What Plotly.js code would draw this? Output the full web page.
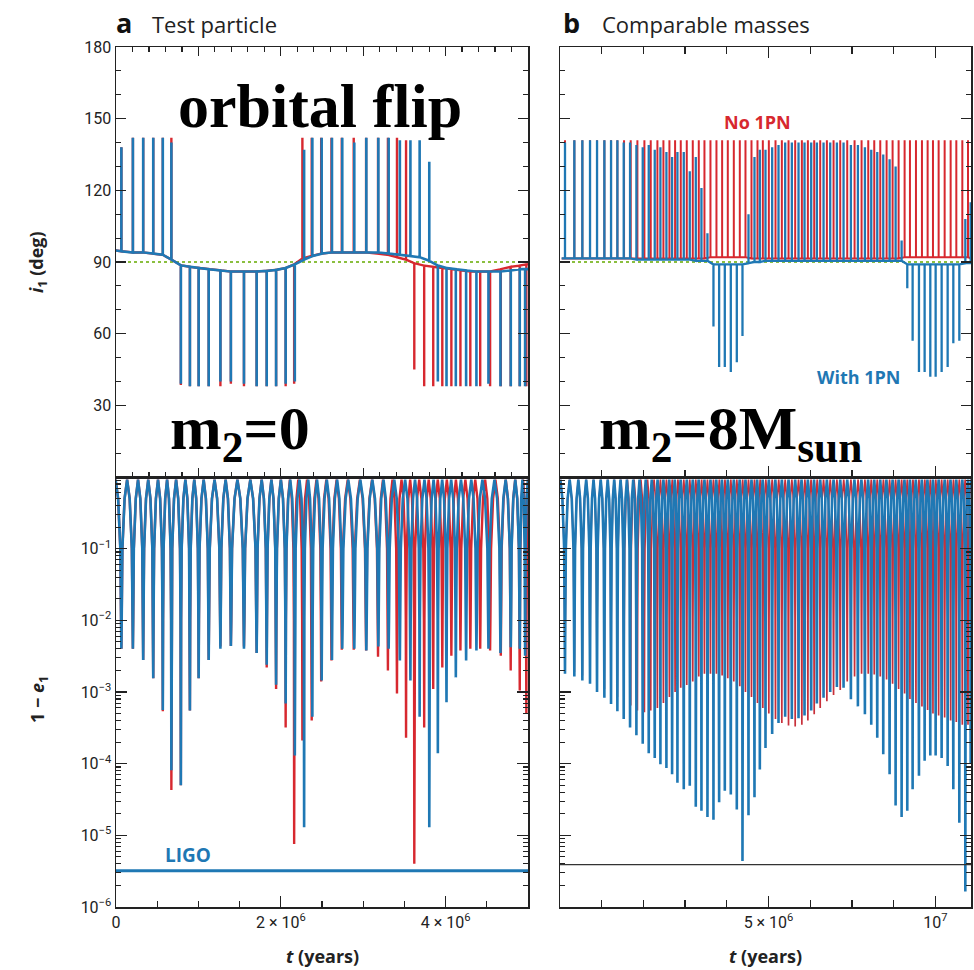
<!DOCTYPE html>
<html><head><meta charset="utf-8">
<script src="https://cdn.plot.ly/plotly-3.0.1.min.js"></script>
<style>html,body{margin:0;padding:0;background:#fff}</style>
</head><body><div id="chart" style="width:974px;height:970px"></div>
<script>
// ---------------- DATA (times in units of 1e6 years) ----------------
// Panel a: test particle. Each spike: time, inclination extreme, inclination baseline, minimum of 1-e
const aBlueT = [0.065,0.205,0.330,0.452,0.568,0.672,
  0.787,0.897,1.003,1.125,1.267,1.394,1.553,1.707,1.829,1.943,2.059,2.170,
  2.283,2.383,2.496,2.621,2.746,2.892,3.038,3.184,3.309,3.445,3.573,3.685,3.802,
  3.906,4.011,4.124,4.249,4.374,4.520,4.666,4.791,4.900,4.965];
const aBlueI = [138,142,142,142,142,140,
  39,38,38,38,40,40,39,38,38,38,39,40,
  137,142,142,142,142,140,142,142,142,141,141,141,132,
  40,38,38,38,38,39,38,38,38,38];
const aBlueBase = [94.5,94,94,93.5,93,91,
  88.6,88,87.5,87,86.5,86,86,86,86.3,86.7,87.5,89,
  91,92.5,93.5,94,94,94,94,94,93.5,93,92.5,92,90.5,
  88.5,87.5,87,86.5,86,86,86,86.5,87,87];
const aBlueEmin = [4.0e-3,4.0e-3,2.8e-3,1.55e-3,5.6e-4,8.1e-5,
  5.0e-5,5.5e-4,1.55e-3,2.8e-3,4.0e-3,4.4e-3,4.0e-3,3.5e-3,2.4e-3,1.26e-3,6.9e-4,1.3e-4,
  1.3e-5,4.5e-4,1.45e-3,2.8e-3,4.0e-3,4.0e-3,3.8e-3,4.3e-3,4.0e-3,2.75e-3,1.45e-3,4.5e-4,1.3e-5,
  1.4e-4,7.2e-4,1.6e-3,2.75e-3,3.8e-3,4.0e-3,3.5e-3,4.2e-3,4.0e-3,3.2e-3];

const aRedT = [0.065,0.205,0.330,0.452,0.568,0.672,
  0.787,0.897,1.003,1.125,1.267,1.394,1.553,1.707,1.829,1.943,2.059,2.162,
  2.262,2.375,2.490,2.615,2.740,2.885,3.035,3.180,3.300,3.410,3.520,
  3.620,3.740,3.850,3.960,4.070,4.180,4.300,4.420,4.540,4.670,4.790,4.900,4.980];
const aRedI = [138,142,142,142,142,142,
  38.5,38,38,38,38,39,38,38,38,38,38,39,
  142,142,142,142,142,142,142,142,142,142,141,
  45,38,38,38,38,38,38,38,38,38,38,38,38];
const aRedBase = [94.5,94,94,93.5,93,91,
  88.6,88,87.5,87,86.5,86,86,86,86.3,86.7,87.5,89,
  91.5,92.5,93.5,94,94,94,94,93.5,93,92,91,
  89.5,88.5,88,87.5,87,86.5,86,86,86,87,88,88.5,89];
const aRedEmin = [4.0e-3,4.0e-3,2.8e-3,1.55e-3,5.4e-4,4.3e-5,
  5.0e-5,5.5e-4,1.55e-3,2.8e-3,4.3e-3,4.4e-3,4.3e-3,3.5e-3,2.2e-3,1.1e-3,3.2e-4,7.6e-6,
  2.1e-4,4.0e-4,1.4e-3,2.75e-3,3.9e-3,3.9e-3,3.8e-3,3.1e-3,2.0e-3,9.5e-4,2.3e-4,
  4.0e-6,3.2e-4,1.1e-3,2.2e-3,3.2e-3,3.8e-3,4.0e-3,4.0e-3,3.8e-3,3.2e-3,2.0e-3,1.05e-3,5.0e-4];
const aStartI = 95, aBlueEndI = 87, aRedEndI = 89;

// Panel b: comparable masses
const bBlueT = [-1.10,-0.82,-0.58,-0.35,-0.14,0.08,0.28,0.47,0.66,0.85,
  1.04,1.23,1.41,1.59,1.76,1.94,2.11,2.27,2.46,2.64,
  2.82,2.99,3.17,3.35,3.52,3.69,3.87,4.05,4.22,4.40,
  4.58,4.74,4.91,5.11,5.30,5.50,5.70,5.90,6.08,6.28,
  6.45,6.65,6.85,7.05,7.25,7.47,7.68,7.89,8.08,8.26,
  8.44,8.63,8.81,8.99,9.16,9.32,9.51,9.68,9.85,10.01,
  10.19,10.37,10.54,10.72,10.90,11.06];
const bBlueI = [140,141,141,141,141,141,141,141,140,140,
  139,138,139,137,138,136,134,136,136,128,
  134,121,102,63,46,46,44,48,59,110,
  134,137,137,138,139,140,140,140,140,140,
  140,140,140,140,140,139,139,138,137,136,
  135,133,130,99,79,57,44,44,42,42,
  44,46,56,57,108,115];
const bBlueBase = [91.5,91.5,91.5,91.5,91.5,91.5,91.5,91.5,91.5,91.5,
  91,91,91,91,91,91,91,91,91,91,
  90.5,90.5,90.5,89,89,89,89,89,89,89.5,
  90,90,90.5,90.5,90.5,90.5,90.5,90.5,90.5,90.5,
  90.5,90.5,90.5,90.5,90.5,90.5,90.5,90.5,90.5,90.5,
  90.5,90.5,90.5,90.5,89,89,89,89,89,89,
  89,89,89,89,89.5,89.5];
const bBlueEmin = [1.8e-3,1.65e-3,1.45e-3,1.3e-3,1.0e-3,8.3e-4,6.8e-4,5.4e-4,4.2e-4,3.2e-4,
  2.5e-4,1.9e-4,1.4e-4,1.2e-4,9.8e-5,8.7e-5,7.1e-5,5.4e-5,4.4e-5,4.9e-5,
  2.5e-5,2.2e-5,1.8e-5,1.65e-5,2.9e-5,4.2e-5,3.7e-5,2.3e-5,4.4e-6,1.9e-5,
  3.4e-5,8.3e-5,1.65e-4,2.6e-4,3.7e-4,4.5e-4,4.2e-4,4.3e-4,4.7e-4,5.5e-4,
  6.9e-4,8.3e-4,1.0e-3,1.17e-3,1.15e-3,7.9e-4,6.3e-4,4.9e-4,3.5e-4,2.3e-4,
  1.35e-4,7.1e-5,2.6e-5,1.8e-5,2.2e-5,4.4e-5,6.8e-5,1.1e-4,1.3e-4,1.3e-4,
  1.2e-4,9.3e-5,4.4e-5,1.5e-5,1.65e-6,1.0e-4];

const bRedT = [-1.10,-0.82,-0.58,-0.35,-0.14,0.08,0.28,0.47,0.67,0.87,
  1.07,1.28,1.47,1.67,1.85,2.03,2.20,2.37,2.55,2.73,
  2.91,3.08,3.26,3.44,3.61,3.78,3.96,4.14,4.31,4.49,
  4.67,4.83,5.01,5.21,5.40,5.60,5.80,6.00,6.18,6.37,
  6.55,6.75,6.95,7.15,7.36,7.58,7.79,7.99,8.17,8.35,
  8.54,8.72,8.90,9.08,9.24,9.42,9.60,9.77,9.93,10.10,
  10.28,10.46,10.63,10.81,10.98];
const bRedI = [141,141,141,141,141,141,141,141,141,141,
  141,141,141,141,141,141,141,141,141,141,
  141,141,141,141,141,141,141,141,141,141,
  141,141,141,141,141,141,141,141,141,141,
  141,141,141,141,141,141,141,141,141,141,
  141,141,141,141,141,141,141,141,141,141,
  141,141,141,141,141];
const bRedBase = [91.5,91.5,91.5,91.5,91.5,91.5,91.5,91.5,91.5,91.5,
  91.5,91.5,91.5,91.5,91.5,91.5,91.5,91.5,91.5,91.5,
  91.5,91.5,92,92,92,92,92,92,92,91.5,
  91.5,91.5,91.5,91.5,91.5,91.5,91.5,91.5,91.5,91.5,
  91.5,91.5,91.5,91.5,91.5,91.5,91.5,91.5,91.5,91.5,
  91.5,91.5,91.5,92,92,92,92,92,92,92,
  92,92,92,92,92];
const bRedEmin = [2.0e-3,1.9e-3,1.7e-3,1.5e-3,1.25e-3,1.1e-3,9.5e-4,8.5e-4,7.5e-4,6.5e-4,
  5.5e-4,5.2e-4,5.5e-4,6.0e-4,7.0e-4,8.5e-4,1.0e-3,1.15e-3,1.25e-3,1.4e-3,
  1.65e-3,1.8e-3,1.8e-3,1.8e-3,1.7e-3,1.55e-3,1.4e-3,1.2e-3,1.0e-3,8.5e-4,
  7.0e-4,6.0e-4,5.0e-4,4.2e-4,3.7e-4,3.4e-4,3.3e-4,3.5e-4,4.0e-4,4.9e-4,
  6.0e-4,7.4e-4,9.1e-4,1.07e-3,1.4e-3,1.65e-3,1.8e-3,1.8e-3,1.75e-3,1.65e-3,
  1.5e-3,1.3e-3,1.1e-3,9.5e-4,8.0e-4,7.0e-4,6.3e-4,5.6e-4,5.0e-4,4.7e-4,
  4.4e-4,4.0e-4,3.8e-4,3.5e-4,3.5e-4];
const bStartI = 91.5;

const eccTop = 0.92;            // 1-e reached between eccentricity spikes
const flipLine = 90;            // dotted reference inclination
const ligoA = 3.2e-6, ligoB = 3.9e-6;
const aRange = [0, 5.0], bRange = [-1.25, 11.07];
const iTicks = [30,60,90,120,150,180];
const eTicks = [1e-6,1e-5,1e-4,1e-3,1e-2,1e-1];
const eTickText = ['10<sup>−6</sup>','10<sup>−5</sup>','10<sup>−4</sup>','10<sup>−3</sup>','10<sup>−2</sup>','10<sup>−1</sup>'];
const aXTicks = [0,2,4], aXText = ['0','2 × 10<sup>6</sup>','4 × 10<sup>6</sup>'];
const bXTicks = [5,10], bXText = ['5 × 10<sup>6</sup>','10<sup>7</sup>'];

// ---------------- BUILD ----------------
const M = 1e6;
const RED = '#d7282f', BLUE = '#1f78b4';
function iCurve(T, peak, base, v0, t1, v1) {
  const x = [(T[0] - 0.1)*M], y = [v0];
  for (let k = 0; k < T.length; k++) { x.push(T[k]*M, T[k]*M, T[k]*M); y.push(base[k], peak[k], base[k]); }
  x.push(t1*M); y.push(v1);
  return {x, y};
}
const PF = [0.5, 0.28, 0.09, 0.03];          // spike profile: fraction of gap
function eCurve(T, mins, t1) {
  const LV = [eccTop, 0.5, 0.1, 0.01];
  const x = [], y = [], n = T.length;
  for (let k = 0; k < n; k++) {
    const gL = k > 0 ? T[k]-T[k-1] : T[1]-T[0];
    const gR = k < n-1 ? T[k+1]-T[k] : gL;
    for (let j = 0; j < 4; j++) { x.push((T[k]-gL*PF[j])*M); y.push(LV[j]); }
    x.push(T[k]*M); y.push(mins[k]);
    for (let j = 3; j >= 1; j--) { x.push((T[k]+gR*PF[j])*M); y.push(LV[j]); }
  }
  x.push(t1*M); y.push(eccTop);
  return {x, y};
}
function line(c, xa, ya, col, w, extra) {
  return Object.assign({type:'scatter', mode:'lines', x:c.x, y:c.y, xaxis:xa, yaxis:ya,
    line:{color:col, width:w}, hoverinfo:'skip', showlegend:false}, extra||{});
}
const GREEN = '#8bbf3f';
const traces = [];
// panel a
traces.push(line({x:[aRange[0]*M, aRange[1]*M], y:[flipLine, flipLine]}, 'x', 'y', GREEN, 2.2, {line:{color:GREEN, width:2.2, dash:'dot'}}));
traces.push(line(iCurve(aRedT, aRedI, aRedBase, aStartI, aRange[1], aRedEndI), 'x', 'y', RED, 2.4));
traces.push(line(iCurve(aBlueT, aBlueI, aBlueBase, aStartI, aRange[1], aBlueEndI), 'x', 'y', BLUE, 2.6));
traces.push(line(eCurve(aRedT, aRedEmin, aRange[1]), 'x2', 'y2', RED, 2.4));
traces.push(line(eCurve(aBlueT, aBlueEmin, aRange[1]), 'x2', 'y2', BLUE, 2.6));
traces.push(line({x:[aRange[0]*M, aRange[1]*M], y:[ligoA, ligoA]}, 'x2', 'y2', BLUE, 3));
// panel b
traces.push(line({x:[bRange[0]*M, bRange[1]*M], y:[flipLine, flipLine]}, 'x3', 'y3', GREEN, 2.2, {line:{color:GREEN, width:2.2, dash:'dot'}}));
traces.push(line(iCurve(bRedT, bRedI, bRedBase, bStartI, bRange[1], 91.5), 'x3', 'y3', RED, 2.0));
traces.push(line(iCurve(bBlueT, bBlueI, bBlueBase, bStartI, bRange[1], 90), 'x3', 'y3', BLUE, 2.3));
traces.push(line(eCurve(bRedT, bRedEmin, bRange[1]), 'x4', 'y4', '#c8303a', 1.7));
traces.push(line(eCurve(bBlueT, bBlueEmin, bRange[1]), 'x4', 'y4', BLUE, 2.6));
traces.push(line({x:[bRange[0]*M, bRange[1]*M], y:[ligoB, ligoB]}, 'x4', 'y4', '#333', 1.3));

const W = 974, H = 970;
const px = v => v / W, py = v => 1 - v / H;
const AX = [px(116), px(528)], BX = [px(560), px(971)];
const TOPY = [py(477), py(47)], BOTY = [py(907), py(477)];
const tickFont = {family:'Liberation Sans Narrow, Arial Narrow, Roboto, sans-serif', size:16, color:'#222'};
const base = {showline:true, linecolor:'#222', linewidth:1.5, ticks:'inside', tickcolor:'#222', tickwidth:1.3,
  showgrid:false, zeroline:false, fixedrange:true, tickfont:tickFont};
function mnr(d, len, t0) { return {tickmode:'linear', tick0:t0||0, dtick:d, ticks:'inside', ticklen:len, tickcolor:'#222', tickwidth:1.2}; }

const layout = {
  width:W, height:H, margin:{l:0, r:0, t:0, b:0}, paper_bgcolor:'#fff', plot_bgcolor:'#fff', showlegend:false,
  xaxis: Object.assign({}, base, {domain:AX, anchor:'y', range:[aRange[0]*M, aRange[1]*M], tickmode:'array',
    tickvals:[0,1e6,2e6,3e6,4e6,5e6], ticklen:9, showticklabels:false, mirror:'ticks', minor:mnr(2e5,5)}),
  yaxis: Object.assign({}, base, {domain:TOPY, anchor:'x', range:[0,180], tickmode:'array', tickvals:iTicks,
    ticktext:iTicks.map(String), ticklen:10, mirror:'ticks', minor:mnr(10,5)}),
  xaxis2: Object.assign({}, base, {domain:AX, anchor:'y2', range:[aRange[0]*M, aRange[1]*M], tickmode:'array',
    tickvals:aXTicks.map(v=>v*M), ticktext:aXText, ticklen:11, mirror:true, minor:mnr(5e5,6)}),
  yaxis2: Object.assign({}, base, {domain:BOTY, anchor:'x2', type:'log', range:[-6,0], tickmode:'array',
    tickvals:eTicks, ticktext:eTickText, ticklen:11, mirror:'ticks', minor:{tickmode:'linear', dtick:'D1', ticks:'inside', ticklen:5, tickcolor:'#222', tickwidth:1.1}}),
  xaxis3: Object.assign({}, base, {domain:BX, anchor:'y3', range:[bRange[0]*M, bRange[1]*M], tickmode:'array',
    tickvals:bXTicks.map(v=>v*M), ticklen:11, showticklabels:false, mirror:'ticks', minor:mnr(1.25e6,7,0)}),
  yaxis3: Object.assign({}, base, {domain:TOPY, anchor:'x3', range:[0,180], tickmode:'array', tickvals:iTicks,
    showticklabels:false, ticklen:10, mirror:'ticks', minor:mnr(10,5)}),
  xaxis4: Object.assign({}, base, {domain:BX, anchor:'y4', range:[bRange[0]*M, bRange[1]*M], tickmode:'array',
    tickvals:bXTicks.map(v=>v*M), ticktext:bXText, ticklen:11, mirror:true, minor:mnr(1.25e6,7,0)}),
  yaxis4: Object.assign({}, base, {domain:BOTY, anchor:'x4', type:'log', range:[-6,0], tickmode:'array',
    tickvals:eTicks, showticklabels:false, ticklen:11, mirror:'ticks', minor:{tickmode:'linear', dtick:'D1', ticks:'inside', ticklen:5, tickcolor:'#222', tickwidth:1.1}}),
  annotations: []
};
const sans = 'Open Sans, Noto Sans, sans-serif';
function ann(text, x, y, font, extra) {
  layout.annotations.push(Object.assign({text, x:px(x), y:py(y), xref:'paper', yref:'paper', showarrow:false,
    xanchor:'center', yanchor:'middle', font}, extra||{}));
}
ann('<b>a</b>', 124, 22, {family:sans, size:27, color:'#111'});
ann('Test particle', 150, 24, {family:sans, size:22, color:'#222'}, {xanchor:'left'});
ann('<b>b</b>', 571, 22, {family:sans, size:27, color:'#111'});
ann('Comparable masses', 600, 24, {family:sans, size:22, color:'#222'}, {xanchor:'left'});
ann('<b><i>i</i><sub>1</sub> (deg)</b>', 38, 262, {family:sans, size:18, color:'#222'}, {textangle:-90});
ann('<b>1 − <i>e</i><sub>1</sub></b>', 38, 700, {family:sans, size:18, color:'#222'}, {textangle:-90});
ann('<b><i>t</i> (years)</b>', 322, 956, {family:sans, size:18, color:'#222'});
ann('<b><i>t</i> (years)</b>', 765, 956, {family:sans, size:18, color:'#222'});
const serif = 'Liberation Serif, Times New Roman, serif';
ann('<b>orbital flip</b>', 320, 106, {family:serif, size:62, color:'#000'});
ann('<b>m<sub>2</sub>=0</b>', 240, 432, {family:serif, size:62, color:'#000'});
ann('<b>m<sub>2</sub>=8M<sub>sun</sub></b>', 730, 432, {family:serif, size:62, color:'#000'});
ann('<b>No 1PN</b>', 757, 122, {family:sans, size:18, color:RED});
ann('<b>With 1PN</b>', 858, 377, {family:sans, size:18, color:BLUE});
ann('<b>LIGO</b>', 188, 855, {family:sans, size:19, color:BLUE});

Plotly.newPlot('chart', traces, layout, {staticPlot:true, displayModeBar:false});
</script></body></html>
